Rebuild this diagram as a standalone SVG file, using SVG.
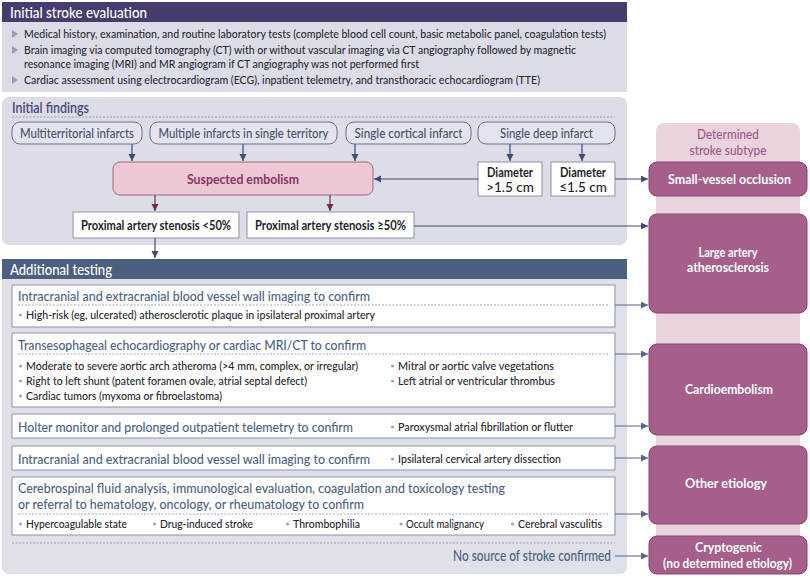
<svg xmlns="http://www.w3.org/2000/svg" width="810" height="578" viewBox="0 0 810 578">
<defs>
<marker id="an" markerUnits="userSpaceOnUse" markerWidth="8" markerHeight="8" refX="7" refY="3.5" orient="auto"><path d="M0,0 L7,3.5 L0,7 z" fill="#414a74"/></marker>
<marker id="am" markerUnits="userSpaceOnUse" markerWidth="8" markerHeight="8" refX="7" refY="3.5" orient="auto"><path d="M0,0 L7,3.5 L0,7 z" fill="#6e2c50"/></marker>
<marker id="as" markerUnits="userSpaceOnUse" markerWidth="8" markerHeight="8" refX="7" refY="3.5" orient="auto"><path d="M0,0 L7,3.5 L0,7 z" fill="#55668a"/></marker>
</defs>
<style>
text{font-family:Lato,"Liberation Sans",sans-serif;font-weight:500}
.hd{font-size:16px;fill:#fff}
.b1{font-size:11.8px;fill:#2b2b35}
.pill{fill:#e3e4ed;stroke:#6b6f8c;stroke-width:1}
.pt{font-size:13.5px;fill:#4b4f70;text-anchor:middle}
.wb{fill:#fff;stroke:#8d92a8;stroke-width:1}
.bt{font-size:13.5px;fill:#1e1e28;font-weight:bold;text-anchor:middle}
.nt{font-size:13.5px;fill:#1e1e28;text-anchor:middle}
.tt{font-size:13.8px;fill:#4d6282}
.bl{font-size:11.5px;fill:#26262e}
.dot{fill:#a2a4b4}
.dash{stroke:#8d92a8;stroke-width:0.8;stroke-dasharray:2 1.5;fill:none}
.mg{fill:#a65e8a;stroke:#8a4470;stroke-width:1}
.mt{font-size:13.5px;fill:#fff;font-weight:bold;text-anchor:middle}
.st{font-size:14px;fill:#a35a85;text-anchor:middle}
.emb{font-size:14px;font-weight:bold;fill:#883562;text-anchor:middle}
.if{font-size:14.5px;fill:#4a4878;font-weight:600}
.ns{font-size:14.5px;fill:#4d6282;text-anchor:end}
.cn{stroke:#414a74;stroke-width:1.2;fill:none;marker-end:url(#an)}
.cm{stroke:#6e2c50;stroke-width:1.2;fill:none;marker-end:url(#am)}
.cs{stroke:#55668a;stroke-width:1.2;fill:none;marker-end:url(#as)}
</style>

<!-- Section 1 -->
<g id="initial-evaluation">
<rect x="2" y="2" width="625" height="90" fill="#dcdce6"/>
<rect x="2" y="2" width="625" height="20" fill="#463d6e"/>
<text class="hd" x="10" y="17.5" textLength="137" lengthAdjust="spacingAndGlyphs">Initial stroke evaluation</text>
<path d="M12,30 L18,34 L12,38 z" fill="#9c9caf"/>
<path d="M12,46 L18,50 L12,54 z" fill="#9c9caf"/>
<path d="M12,76 L18,80 L12,84 z" fill="#9c9caf"/>
<text class="b1" x="24" y="38" textLength="582" lengthAdjust="spacingAndGlyphs">Medical history, examination, and routine laboratory tests (complete blood cell count, basic metabolic panel, coagulation tests)</text>
<text class="b1" x="24" y="53.5" textLength="552" lengthAdjust="spacingAndGlyphs">Brain imaging via computed tomography (CT) with or without vascular imaging via CT angiography followed by magnetic</text>
<text class="b1" x="24" y="67.5" textLength="395" lengthAdjust="spacingAndGlyphs">resonance imaging (MRI) and MR angiogram if CT angiography was not performed first</text>
<text class="b1" x="24" y="84" textLength="516" lengthAdjust="spacingAndGlyphs">Cardiac assessment using electrocardiogram (ECG), inpatient telemetry, and transthoracic echocardiogram (TTE)</text>
</g>

<!-- Section 2 panel -->
<g id="initial-findings">
<rect x="2" y="97" width="625" height="148" rx="7" fill="#dcdde6"/>
<text class="if" x="12" y="112.5" textLength="77" lengthAdjust="spacingAndGlyphs">Initial findings</text>
<line class="dash" x1="12" y1="117" x2="615" y2="117"/>
</g>

<g id="multiterritorial">
<rect class="pill" x="12" y="122" width="130" height="22" rx="8"/>
<text class="pt" x="77" y="137.5" textLength="114" lengthAdjust="spacingAndGlyphs">Multiterritorial infarcts</text>
</g>
<g id="multiple-single">
<rect class="pill" x="150" y="122" width="187" height="22" rx="8"/>
<text class="pt" x="243.5" y="137.5" textLength="170" lengthAdjust="spacingAndGlyphs">Multiple infarcts in single territory</text>
</g>
<g id="single-cortical">
<rect class="pill" x="346" y="122" width="125" height="22" rx="8"/>
<text class="pt" x="408.5" y="137.5" textLength="108" lengthAdjust="spacingAndGlyphs">Single cortical infarct</text>
</g>
<g id="single-deep">
<rect class="pill" x="478" y="122" width="137" height="22" rx="8"/>
<text class="pt" x="546.5" y="137.5" textLength="93" lengthAdjust="spacingAndGlyphs">Single deep infarct</text>
</g>

<g id="suspected-embolism">
<rect x="113" y="162" width="260" height="33" rx="7" fill="#ecc8d5" stroke="#9d6683" stroke-width="1"/>
<text class="emb" x="243" y="184" textLength="112" lengthAdjust="spacingAndGlyphs">Suspected embolism</text>
</g>

<g id="diameter-gt">
<rect class="wb" x="478" y="162" width="64" height="34"/>
<text class="bt" x="510" y="176.5" textLength="46" lengthAdjust="spacingAndGlyphs">Diameter</text>
<text class="nt" x="510" y="191.5">&gt;1.5 cm</text>
</g>
<g id="diameter-le">
<rect class="wb" x="551" y="162" width="64" height="34"/>
<text class="bt" x="583" y="176.5" textLength="46" lengthAdjust="spacingAndGlyphs">Diameter</text>
<text class="nt" x="583" y="191.5">≤1.5 cm</text>
</g>

<g id="stenosis-lt50">
<rect class="wb" x="73" y="212" width="166" height="26"/>
<text class="bt" x="156" y="229.5" textLength="150" lengthAdjust="spacingAndGlyphs">Proximal artery stenosis &lt;50%</text>
</g>
<g id="stenosis-ge50">
<rect class="wb" x="247" y="212" width="167" height="26"/>
<text class="bt" x="330.5" y="229.5" textLength="151" lengthAdjust="spacingAndGlyphs">Proximal artery stenosis ≥50%</text>
</g>

<!-- Section 3 -->
<g id="additional-testing">
<rect x="2" y="259" width="625" height="315" rx="7" fill="#dfe0e8"/>
<rect x="2" y="259" width="625" height="20" fill="#4b5f81"/>
<text class="hd" x="10" y="274.5" textLength="102" lengthAdjust="spacingAndGlyphs">Additional testing</text>
<line class="dash" x1="12" y1="543" x2="615" y2="543"/>
<text class="ns" x="611" y="561" textLength="158" lengthAdjust="spacingAndGlyphs">No source of stroke confirmed</text>
</g>

<g id="test-vessel-wall">
<rect class="wb" x="12" y="285" width="603" height="42"/>
<text class="tt" x="18" y="300.5" textLength="352" lengthAdjust="spacingAndGlyphs">Intracranial and extracranial blood vessel wall imaging to confirm</text>
<line class="dash" x1="18" y1="305" x2="609" y2="305"/>
<circle class="dot" cx="20.5" cy="315" r="1.6"/>
<text class="bl" x="26" y="319" textLength="349" lengthAdjust="spacingAndGlyphs">High-risk (eg, ulcerated) atherosclerotic plaque in ipsilateral proximal artery</text>
</g>

<g id="test-tee">
<rect class="wb" x="12" y="333" width="603" height="74"/>
<text class="tt" x="18" y="349.5" textLength="348" lengthAdjust="spacingAndGlyphs">Transesophageal echocardiography or cardiac MRI/CT to confirm</text>
<line class="dash" x1="18" y1="354" x2="609" y2="354"/>
<circle class="dot" cx="20.5" cy="366" r="1.6"/>
<text class="bl" x="26" y="370" textLength="332" lengthAdjust="spacingAndGlyphs">Moderate to severe aortic arch atheroma (&gt;4 mm, complex, or irregular)</text>
<circle class="dot" cx="20.5" cy="381" r="1.6"/>
<text class="bl" x="26" y="385" textLength="281" lengthAdjust="spacingAndGlyphs">Right to left shunt (patent foramen ovale, atrial septal defect)</text>
<circle class="dot" cx="20.5" cy="396" r="1.6"/>
<text class="bl" x="26" y="400" textLength="196" lengthAdjust="spacingAndGlyphs">Cardiac tumors (myxoma or fibroelastoma)</text>
<circle class="dot" cx="392.5" cy="366" r="1.6"/>
<text class="bl" x="398" y="370" textLength="156" lengthAdjust="spacingAndGlyphs">Mitral or aortic valve vegetations</text>
<circle class="dot" cx="392.5" cy="381" r="1.6"/>
<text class="bl" x="398" y="385" textLength="157" lengthAdjust="spacingAndGlyphs">Left atrial or ventricular thrombus</text>
</g>

<g id="test-holter">
<rect class="wb" x="12" y="414" width="603" height="24"/>
<text class="tt" x="18" y="431.5" textLength="335" lengthAdjust="spacingAndGlyphs">Holter monitor and prolonged outpatient telemetry to confirm</text>
<circle class="dot" cx="392.5" cy="427" r="1.6"/>
<text class="bl" x="398" y="431" textLength="175" lengthAdjust="spacingAndGlyphs">Paroxysmal atrial fibrillation or flutter</text>
</g>

<g id="test-dissection">
<rect class="wb" x="12" y="446" width="603" height="24"/>
<text class="tt" x="18" y="463.5" textLength="352" lengthAdjust="spacingAndGlyphs">Intracranial and extracranial blood vessel wall imaging to confirm</text>
<circle class="dot" cx="392.5" cy="459" r="1.6"/>
<text class="bl" x="398" y="463" textLength="163" lengthAdjust="spacingAndGlyphs">Ipsilateral cervical artery dissection</text>
</g>

<g id="test-csf">
<rect class="wb" x="12" y="477" width="603" height="58"/>
<text class="tt" x="18" y="493" textLength="487" lengthAdjust="spacingAndGlyphs">Cerebrospinal fluid analysis, immunological evaluation, coagulation and toxicology testing</text>
<text class="tt" x="18" y="509" textLength="346" lengthAdjust="spacingAndGlyphs">or referral to hematology, oncology, or rheumatology to confirm</text>
<line class="dash" x1="18" y1="514" x2="609" y2="514"/>
<circle class="dot" cx="20.5" cy="524" r="1.6"/>
<text class="bl" x="26" y="528" textLength="101" lengthAdjust="spacingAndGlyphs">Hypercoagulable state</text>
<circle class="dot" cx="154.5" cy="524" r="1.6"/>
<text class="bl" x="160" y="528" textLength="93" lengthAdjust="spacingAndGlyphs">Drug-induced stroke</text>
<circle class="dot" cx="287.5" cy="524" r="1.6"/>
<text class="bl" x="293" y="528" textLength="67" lengthAdjust="spacingAndGlyphs">Thrombophilia</text>
<circle class="dot" cx="401" cy="524" r="1.6"/>
<text class="bl" x="406" y="528" textLength="78" lengthAdjust="spacingAndGlyphs">Occult malignancy</text>
<circle class="dot" cx="512.5" cy="524" r="1.6"/>
<text class="bl" x="518" y="528" textLength="84" lengthAdjust="spacingAndGlyphs">Cerebral vasculitis</text>
</g>

<!-- Right column -->
<g id="subtype-column">
<rect x="656" y="123" width="144" height="440" rx="8" fill="#e8d3df"/>
<text class="st" x="728" y="139" textLength="62" lengthAdjust="spacingAndGlyphs">Determined</text>
<text class="st" x="728" y="155" textLength="77" lengthAdjust="spacingAndGlyphs">stroke subtype</text>
</g>
<g id="small-vessel">
<rect class="mg" x="649" y="162" width="158" height="34" rx="8"/>
<text class="mt" x="729.5" y="184" textLength="123" lengthAdjust="spacingAndGlyphs">Small-vessel occlusion</text>
</g>
<g id="large-artery">
<rect class="mg" x="649" y="214" width="158" height="99" rx="8"/>
<text class="mt" x="728" y="257" textLength="59" lengthAdjust="spacingAndGlyphs">Large artery</text>
<text class="mt" x="728" y="272" textLength="82" lengthAdjust="spacingAndGlyphs">atherosclerosis</text>
</g>
<g id="cardioembolism">
<rect class="mg" x="649" y="344" width="158" height="91" rx="8"/>
<text class="mt" x="729" y="394" textLength="88" lengthAdjust="spacingAndGlyphs">Cardioembolism</text>
</g>
<g id="other-etiology">
<rect class="mg" x="649" y="446" width="158" height="78" rx="8"/>
<text class="mt" x="726" y="488" textLength="82" lengthAdjust="spacingAndGlyphs">Other etiology</text>
</g>
<g id="cryptogenic">
<rect class="mg" x="649" y="536" width="158" height="38" rx="8"/>
<text class="mt" x="728.5" y="551.5" textLength="67" lengthAdjust="spacingAndGlyphs">Cryptogenic</text>
<text class="mt" x="727.5" y="567.5" textLength="129" lengthAdjust="spacingAndGlyphs">(no determined etiology)</text>
</g>

<!-- Connectors -->
<g id="connectors">
<line class="cn" x1="132" y1="144" x2="132" y2="161"/>
<line class="cn" x1="243" y1="144" x2="243" y2="161"/>
<line class="cn" x1="355" y1="144" x2="355" y2="161"/>
<line class="cn" x1="510" y1="144" x2="510" y2="161"/>
<line class="cn" x1="582" y1="144" x2="582" y2="161"/>
<line class="cn" x1="478" y1="179" x2="374" y2="179"/>
<line class="cn" x1="615" y1="179" x2="648" y2="179"/>
<line class="cm" x1="155" y1="195" x2="155" y2="211"/>
<line class="cm" x1="330" y1="195" x2="330" y2="211"/>
<line class="cn" x1="414" y1="226" x2="648" y2="226"/>
<line class="cn" x1="155" y1="238" x2="155" y2="258"/>
<line class="cs" x1="615" y1="305" x2="648" y2="305"/>
<line class="cs" x1="615" y1="354" x2="648" y2="354"/>
<line class="cs" x1="615" y1="426" x2="648" y2="426"/>
<line class="cs" x1="615" y1="458" x2="648" y2="458"/>
<line class="cs" x1="615" y1="514" x2="648" y2="514"/>
<line class="cs" x1="615" y1="556" x2="648" y2="556"/>
</g>
</svg>
